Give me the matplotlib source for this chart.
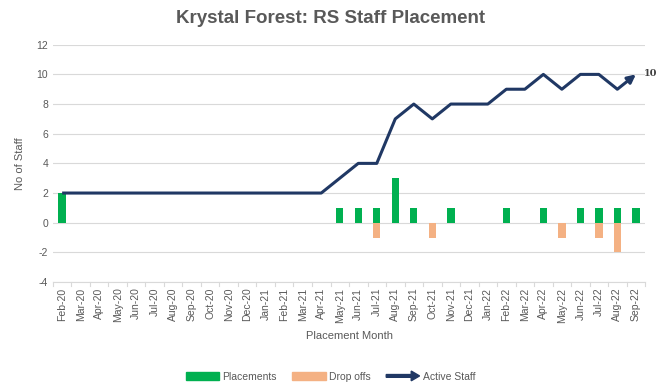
import matplotlib
matplotlib.use("Agg")
import matplotlib.pyplot as plt
from matplotlib.patches import Patch, FancyArrow
from matplotlib.lines import Line2D
from matplotlib.legend_handler import HandlerBase

months = ["Feb-20", "Mar-20", "Apr-20", "May-20", "Jun-20", "Jul-20", "Aug-20", "Sep-20",
          "Oct-20", "Nov-20", "Dec-20", "Jan-21", "Feb-21", "Mar-21", "Apr-21", "May-21",
          "Jun-21", "Jul-21", "Aug-21", "Sep-21", "Oct-21", "Nov-21", "Dec-21", "Jan-22",
          "Feb-22", "Mar-22", "Apr-22", "May-22", "Jun-22", "Jul-22", "Aug-22", "Sep-22"]
placements = [2, 0, 0, 0, 0, 0, 0, 0, 0, 0, 0, 0, 0, 0, 0, 1,
              1, 1, 3, 1, 0, 1, 0, 0, 1, 0, 1, 0, 1, 1, 1, 1]
drop_offs = [0, 0, 0, 0, 0, 0, 0, 0, 0, 0, 0, 0, 0, 0, 0, 0,
             0, -1, 0, 0, -1, 0, 0, 0, 0, 0, 0, -1, 0, -1, -2, 0]
active_staff = [2, 2, 2, 2, 2, 2, 2, 2, 2, 2, 2, 2, 2, 2, 2, 3,
                4, 4, 7, 8, 7, 8, 8, 8, 9, 9, 10, 9, 10, 10, 9, 10]

green = "#00B050"
orange = "#F4B183"
navy = "#203864"
grey = "#595959"

plt.rcParams['font.family'] = ['Liberation Sans', 'DejaVu Sans']
plt.rcParams['axes.unicode_minus'] = False

fig = plt.figure(figsize=(6.61, 3.89), dpi=100)
ax = fig.add_axes([0.08, 0.275, 0.896, 0.61])

x = list(range(len(months)))
ax.bar(x, placements, width=0.4, color=green, zorder=2)
ax.bar(x, drop_offs, width=0.4, color=orange, zorder=2)
ax.plot(x[:-1], active_staff[:-1], color=navy, lw=2.2, zorder=3, solid_capstyle='butt')
ax.annotate("", xy=(x[-1], active_staff[-1]), xytext=(x[-2], active_staff[-2]),
            arrowprops=dict(arrowstyle="-|>", color=navy, lw=2.2, mutation_scale=12,
                            shrinkA=0, shrinkB=0), zorder=3)
ax.annotate(str(active_staff[-1]), xy=(x[-1], active_staff[-1]), xytext=(6, 1),
            textcoords="offset points", fontsize=7, fontweight="bold", color="#404040",
            va="center", family="DejaVu Serif", annotation_clip=False)

ax.set_xlim(-0.5, len(months) - 0.5)
ax.set_ylim(-4, 12)
ax.set_yticks(range(-4, 13, 2))
ax.set_xticks(x)
ax.set_xticklabels(months, rotation=90, fontsize=7.5, color=grey)
ax.tick_params(axis='y', length=0, labelsize=7.5, labelcolor=grey)
ax.tick_params(axis='x', length=0, pad=4)
ax.grid(axis='y', color="#D9D9D9", lw=0.8, zorder=0)
for s in ["top", "right", "left"]:
    ax.spines[s].set_visible(False)
ax.spines["bottom"].set_color("#D9D9D9")
for xi in range(len(months) + 1):
    ax.plot([xi - 0.5, xi - 0.5], [-4, -4.25], color="#D9D9D9", lw=0.8, clip_on=False)

ax.set_ylabel("No of Staff", fontsize=8, color=grey, labelpad=8)
ax.set_xlabel("Placement Month", fontsize=8, color=grey, labelpad=6)
fig.suptitle("Krystal Forest: RS Staff Placement", x=0.5, y=0.975, fontsize=13.5,
             fontweight="bold", color=grey)


class ArrowHandler(HandlerBase):
    def create_artists(self, legend, orig_handle, xdescent, ydescent, width, height, fontsize, trans):
        y = height / 2 - ydescent
        arr = FancyArrow(-xdescent, y, width, 0, width=2, head_width=7, head_length=6,
                         length_includes_head=True, color=navy, transform=trans)
        return [arr]


handles = [Patch(color=green), Patch(color=orange), Line2D([], [], color=navy)]
labels = ["Placements", "Drop offs", "Active Staff"]
fig.legend(handles, labels, loc="lower center", bbox_to_anchor=(0.5, -0.005), ncol=3,
           frameon=False, fontsize=7.5, handlelength=3.2, handleheight=0.7, columnspacing=1.5,
           handletextpad=0.3, labelcolor=grey,
           handler_map={Line2D: ArrowHandler()})

fig.savefig("out.png", dpi=100)
